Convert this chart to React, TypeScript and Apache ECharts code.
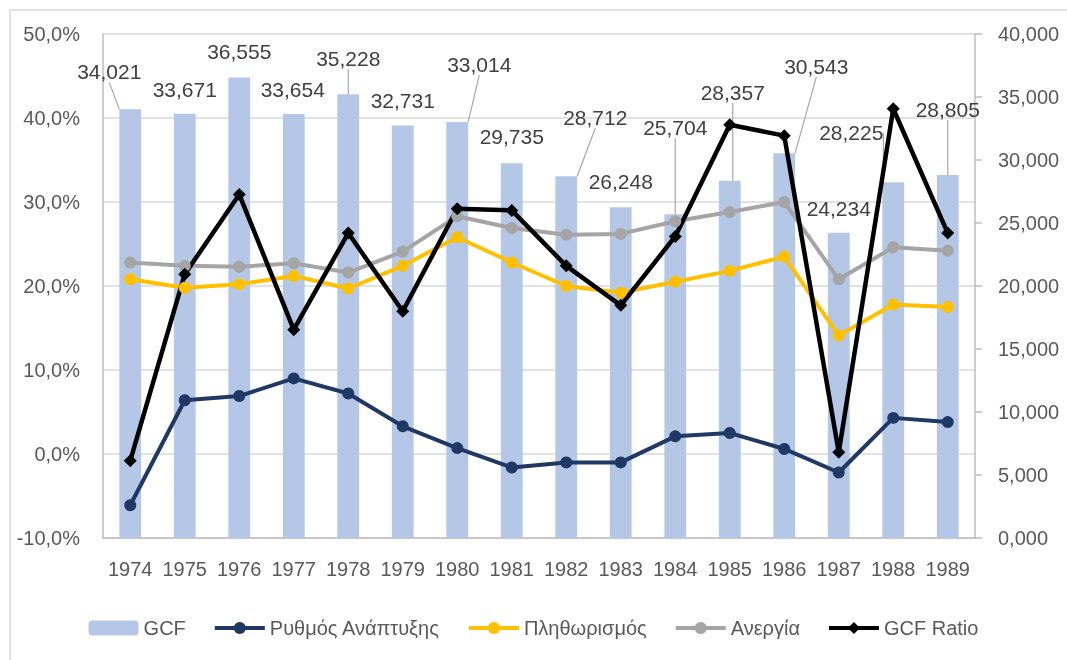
import React, { useEffect, useRef } from "react";
import * as echarts from "echarts";

const years = ["1974", "1975", "1976", "1977", "1978", "1979", "1980", "1981", "1982", "1983", "1984", "1985", "1986", "1987", "1988", "1989"];
const gcf = [34021, 33671, 36555, 33654, 35228, 32731, 33014, 29735, 28712, 26248, 25704, 28357, 30543, 24234, 28225, 28805];
const growth = [-6.1, 6.4, 6.9, 9.0, 7.2, 3.3, 0.7, -1.6, -1.0, -1.0, 2.1, 2.5, 0.6, -2.2, 4.3, 3.8];
const inflation = [20.8, 19.8, 20.2, 21.2, 19.7, 22.4, 25.8, 22.8, 20.0, 19.2, 20.5, 21.8, 23.5, 14.1, 17.8, 17.5];
const unemployment = [22.8, 22.4, 22.3, 22.7, 21.6, 24.1, 28.3, 26.9, 26.1, 26.2, 27.7, 28.8, 30.0, 20.8, 24.6, 24.2];
const gcfRatio = [-0.8, 21.4, 30.9, 14.8, 26.3, 17.0, 29.2, 29.0, 22.4, 17.7, 25.9, 39.2, 37.9, 0.2, 41.1, 26.3];

const seriesNames = ["GCF", "Ρυθμός Ανάπτυξης", "Πληθωρισμός", "Ανεργία", "GCF Ratio"];

// label displacement (px) from default "top" position, and whether a leader line is drawn
const labelShift: [number, number][] = [
  [-21, -22], [0, -9], [0, -10], [-1, -9], [0, -20], [0, -10], [22, -42], [0, -11],
  [29, -43], [0, -10], [0, -71], [3, -73], [32, -71], [0, -9], [-42, -34], [0, -50],
];
const labelLeader = [true, false, false, false, true, false, true, false, true, false, true, true, true, false, true, true];

const FONT = "Liberation Sans";
const TXT = "#595959";

function fmtThousands(v: number) {
  const s = String(Math.round(v)).padStart(4, "0");
  return s.replace(/\B(?=(\d{3})+(?!\d))/g, ",");
}

export default function App() {
  const ref = useRef<HTMLDivElement>(null);
  useEffect(() => {
    if (!ref.current) return;
    const chart = echarts.init(ref.current, null, { renderer: "svg" });
    const lineSeries = (name: string, data: number[], color: string, symbol: string, size: number, width: number) => ({
      name,
      type: "line",
      yAxisIndex: 0,
      data,
      symbol,
      symbolSize: size,
      itemStyle: { color },
      lineStyle: { color, width },
      z: 3,
    });
    chart.setOption({
      animation: false,
      textStyle: { fontFamily: FONT },
      graphic: [
        {
          type: "rect",
          shape: { x: 10, y: 10, width: 1100, height: 700 },
          style: { fill: "none", stroke: "#D9D9D9", lineWidth: 1.5 },
          silent: true,
        },
      ],
      grid: { left: 103, right: 92, top: 34, bottom: 122 },
      legend: {
        data: seriesNames,
        bottom: 17,
        left: "center",
        itemWidth: 50,
        itemHeight: 15,
        itemGap: 27,
        lineStyle: { width: 4 },
        textStyle: { fontFamily: FONT, fontSize: 20, color: TXT },
      },
      xAxis: {
        type: "category",
        data: years,
        boundaryGap: true,
        axisLine: { onZero: false, lineStyle: { color: "#BFBFBF", width: 1.5 } },
        axisTick: { show: false },
        axisLabel: { fontFamily: FONT, fontSize: 20, color: TXT, margin: 21, interval: 0 },
      },
      yAxis: [
        {
          type: "value",
          min: -10,
          max: 50,
          interval: 10,
          axisLine: { show: true, lineStyle: { color: "#BFBFBF", width: 1.5 } },
          axisTick: { show: false },
          splitLine: { show: true, lineStyle: { color: "#D9D9D9", width: 1.5 } },
          axisLabel: {
            fontFamily: FONT,
            fontSize: 20,
            color: TXT,
            margin: 23,
            formatter: (v: number) => v.toFixed(1).replace(".", ",") + "%",
          },
        },
        {
          type: "value",
          min: 0,
          max: 40000,
          interval: 5000,
          position: "right",
          axisLine: { show: true, lineStyle: { color: "#BFBFBF", width: 1.5 } },
          axisTick: { show: true, length: 7, lineStyle: { color: "#BFBFBF", width: 1.5 } },
          splitLine: { show: false },
          axisLabel: { fontFamily: FONT, fontSize: 20, color: TXT, margin: 23, formatter: fmtThousands },
        },
      ],
      series: [
        {
          name: "GCF",
          type: "bar",
          yAxisIndex: 1,
          barWidth: "40%",
          itemStyle: { color: "#B4C7E7" },
          data: gcf.map((v, i) => ({ value: v, labelLine: { show: labelLeader[i] } })),
          label: {
            show: true,
            position: "top",
            fontFamily: FONT,
            fontSize: 21,
            color: "#404040",
            formatter: (p: any) => fmtThousands(p.value),
          },
          labelLine: { lineStyle: { color: "#A6A6A6", width: 1.2 } },
          labelLayout: (p: any) => ({ dx: labelShift[p.dataIndex][0], dy: labelShift[p.dataIndex][1] }),
          z: 2,
        },
        lineSeries("Ρυθμός Ανάπτυξης", growth, "#203864", "circle", 12, 4),
        lineSeries("Πληθωρισμός", inflation, "#FFC000", "circle", 12, 4),
        lineSeries("Ανεργία", unemployment, "#A5A5A5", "circle", 12, 4),
        lineSeries("GCF Ratio", gcfRatio, "#000000", "diamond", 13, 4.5),
      ],
    });
    return () => chart.dispose();
  }, []);
  return <div ref={ref} style={{ position: "fixed", left: 0, top: 0, width: 1067, height: 660 }} />;
}
